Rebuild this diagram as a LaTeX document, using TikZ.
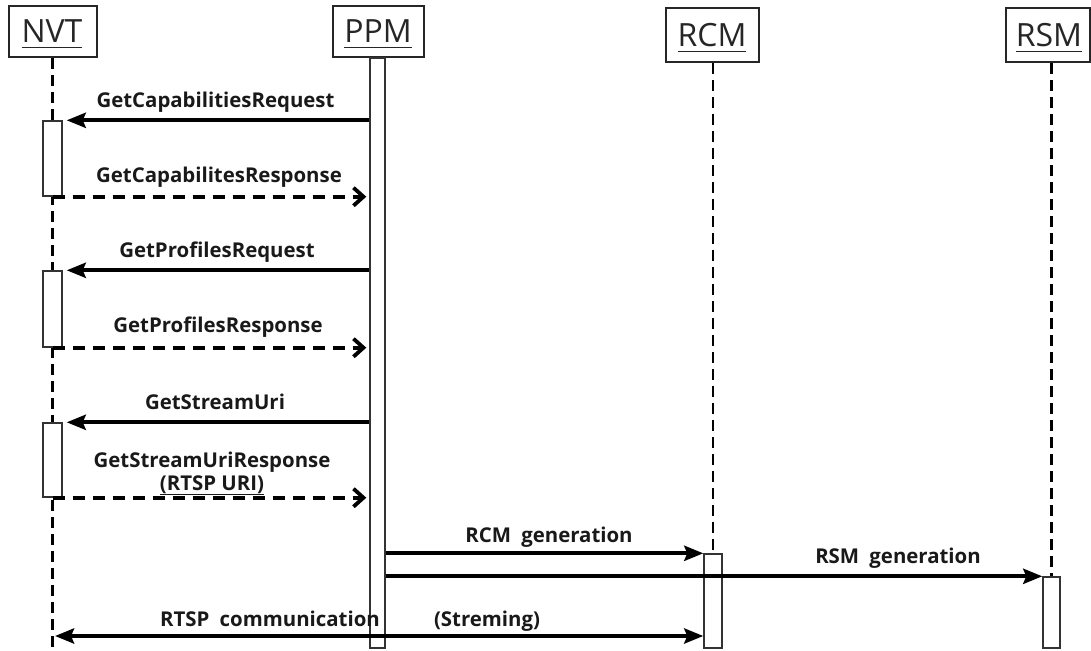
\documentclass[tikz,border=0pt]{standalone}
\usepackage{fontspec}
\setmainfont{Open Sans}
\usetikzlibrary{arrows.meta}
% underline drawn as a rule below the baseline
\newcommand{\headul}[1]{{\setbox0\hbox{#1}\rlap{\rule[-5.5pt]{\wd0}{1.6pt}}\box0}}
\begin{document}
\begin{tikzpicture}[x=1pt,y=-1pt,
  headbox/.style={draw=black!85,line width=1.6pt,rectangle,inner sep=0pt},
  headtext/.style={anchor=base,inner sep=0pt,font=\fontsize{32}{34}\selectfont,text=black!85},
  lifeline/.style={draw=black,line width=2.7pt,dash pattern=on 11pt off 6pt},
  actbar/.style={draw=black!80,line width=1.4pt,fill=white,rectangle,inner sep=0pt},
  call/.style={draw=black,line width=4.3pt,-{Stealth[length=19pt,width=15pt,inset=3pt]}},
  reply/.style={draw=black,line width=4pt,dash pattern=on 12pt off 8pt,
    -{Straight Barb[length=10pt,width=18pt,line width=3.8pt]}},
  both/.style={draw=black,line width=4.3pt,
    {Stealth[length=19pt,width=15pt,inset=3pt]}-{Stealth[length=19pt,width=15pt,inset=3pt]}},
  msg/.style={anchor=base,inner sep=0pt,font=\bfseries\fontsize{20.4}{22}\selectfont,text=black!90,align=center}
]
\useasboundingbox (0,0) rectangle (1091,650);

% participant boxes and names
\node[headbox,minimum width=88pt,minimum height=51pt] (nvt) at (53,31.5) {};
\node[headbox,minimum width=91pt,minimum height=51pt] (ppm) at (378.5,31.5) {};
\node[headbox,minimum width=93pt,minimum height=54pt] (rcm) at (712.5,35) {};
\node[headbox,minimum width=84pt,minimum height=54pt] (rsm) at (1048,35) {};
\node[headtext] (nvtname) at (52,43) {\headul{NVT}};
\node[headtext] (ppmname) at (378,43) {\headul{PPM}};
\node[headtext] (rcmname) at (712,47) {\headul{RCM}};
\node[headtext] (rsmname) at (1049,47) {\headul{RSM}};

% lifeline ends
\coordinate (nvtend) at (52.5,648);
\coordinate (rcmend) at (713,640);
\coordinate (rsmend) at (1051.5,640);

% lifelines
\draw[lifeline] (nvt.south -| nvtend) -- (nvtend);
\draw[lifeline] (rcm.south -| rcmend) -- (rcmend);
\draw[lifeline] (rsm.south -| rsmend) -- (rsmend);

% activation bars
\node[actbar,minimum width=15pt,minimum height=590pt] (ppmbar) at (377.5,353) {};
\node[actbar,minimum width=19pt,minimum height=75pt] (nb1) at (52.5,158.5) {};
\node[actbar,minimum width=19pt,minimum height=76pt] (nb2) at (52.5,309) {};
\node[actbar,minimum width=19pt,minimum height=74pt] (nb3) at (52.5,460) {};
\node[actbar,minimum width=18pt,minimum height=94pt] (rcmbar) at (713,601) {};
\node[actbar,minimum width=17pt,minimum height=71pt] (rsmbar) at (1051.5,612.5) {};

% requests and responses between NVT and PPM
\draw[call,shorten >=4pt] (ppmbar.west |- nb1.north) -- (nb1.north east);
\draw[reply,shorten >=3pt] (nb1.south) -- (ppmbar.west |- nb1.south);
\draw[call,shorten >=4pt] (ppmbar.west |- nb2.north) -- (nb2.north east);
\draw[reply,shorten >=3pt] (nb2.south) -- (ppmbar.west |- nb2.south);
\draw[call,shorten >=4pt] (ppmbar.west |- nb3.north) -- (nb3.north east);
\draw[reply,shorten >=3pt] (nb3.south) -- (ppmbar.west |- nb3.south);

% generation messages
\draw[call] (ppmbar.east |- rcmbar.north) -- (rcmbar.north west);
\draw[call] (ppmbar.east |- rsmbar.north) -- (rsmbar.north west);

% streaming between NVT and RCM
\coordinate (rtspleft) at (55,636);
\draw[both] (rtspleft) -- (rcmbar.west |- rtspleft);

% message labels
\node[msg] (l1) at (215.5,107) {GetCapabilitiesRequest};
\node[msg] (l2) at (219,182) {GetCapabilitesResponse};
\node[msg] (l3) at (217,257) {GetProfilesRequest};
\node[msg] (l4) at (218,332) {GetProfilesResponse};
\node[msg] (l5) at (215,409) {GetStreamUri};
\node[msg] (l6) at (212,467) {GetStreamUriResponse};
\node[msg] (l7) at (212,490) {\underline{(RTSP URI)}};
\node[msg] (l8) at (549,542) {RCM\enspace generation};
\node[msg] (l9) at (898,563) {RSM\enspace generation};
\node[msg] (l10) at (270,626) {RTSP\enspace communication};
\node[msg] (l11) at (487,626) {(Streming)};
\end{tikzpicture}
\end{document}
